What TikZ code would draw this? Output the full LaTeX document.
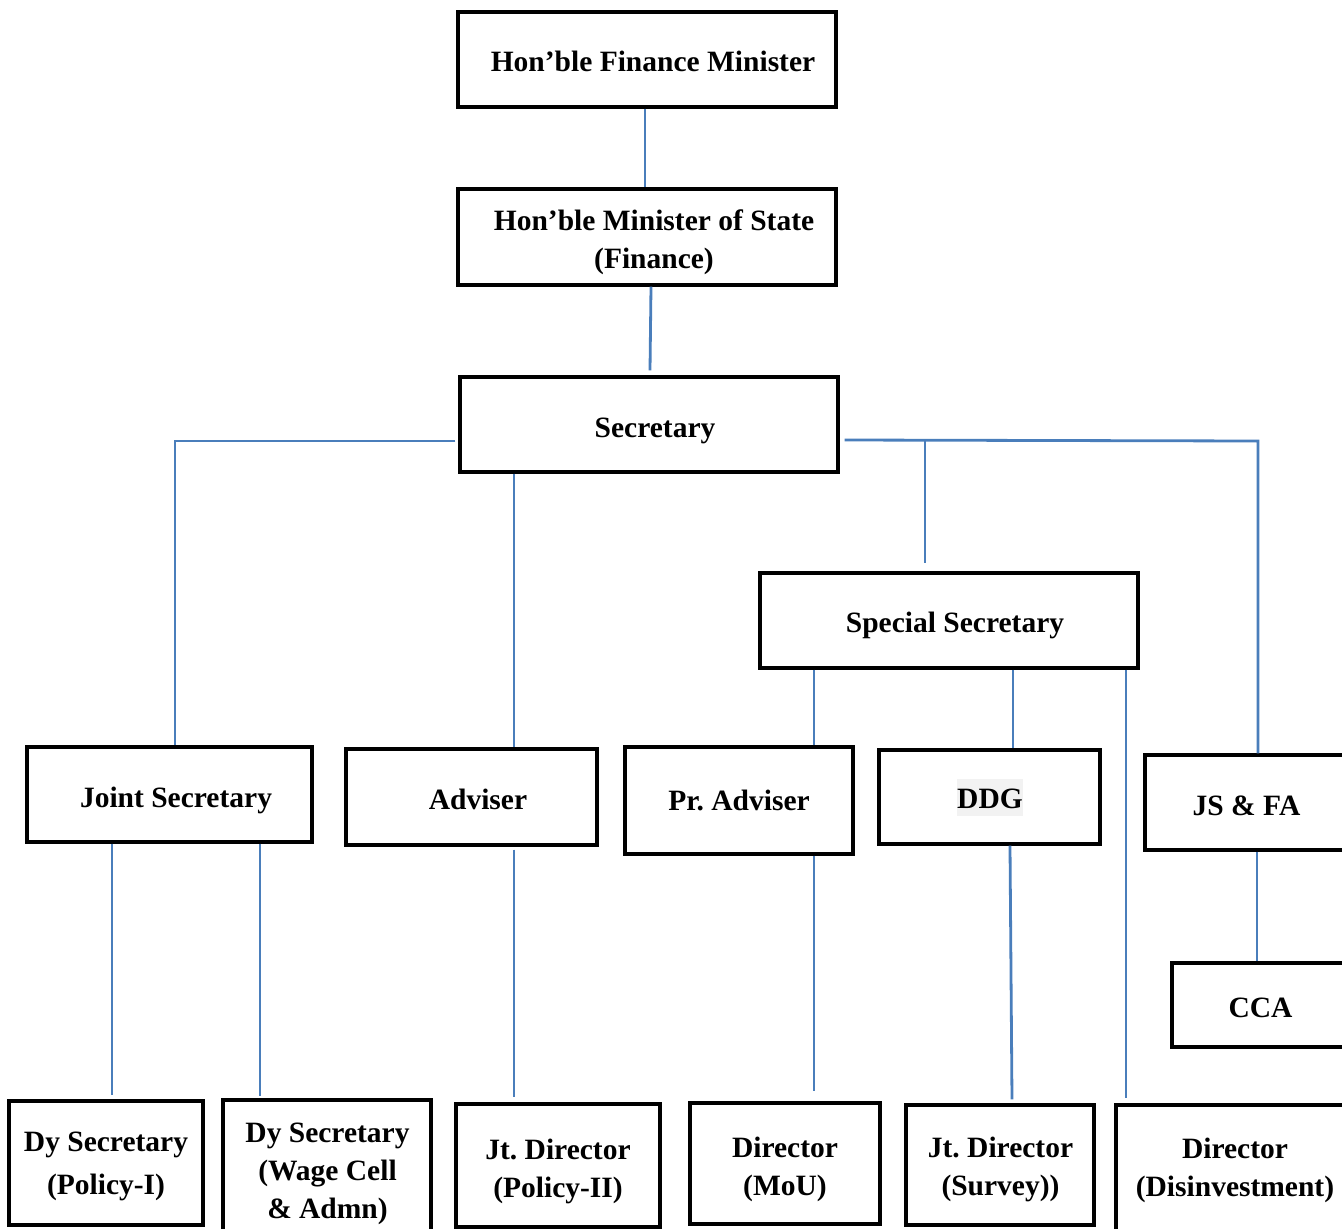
\documentclass[tikz,border=0pt]{standalone}
\usepackage{fontspec}
\setmainfont{Liberation Serif}
\usetikzlibrary{calc}
\definecolor{linkblue}{HTML}{4A7EBB}
\definecolor{hlgray}{HTML}{F2F2F2}
\frenchspacing
\begin{document}
\begin{tikzpicture}[x=1pt,y=-1pt,
  box/.style={draw=black,line width=3.4pt,rectangle,inner sep=0pt,fill=white},
  txt/.style={inner sep=0pt,align=center,font=\bfseries\fontsize{29.5}{38}\selectfont},
  conn/.style={draw=linkblue,line width=2.8pt}]
\useasboundingbox (0,0) rectangle (1342,1229);

% ---- boxes (centre x, centre y, width, height) ----
\node[box,minimum width=378pt,minimum height=95pt] (fm)   at (647,59.5)  {};
\node[box,minimum width=378pt,minimum height=96pt] (mos)  at (647,237)   {};
\node[box,minimum width=378pt,minimum height=95pt] (sec)  at (649,424.5) {};
\node[box,minimum width=378pt,minimum height=95pt] (ss)   at (949,620.5) {};
\node[box,minimum width=285pt,minimum height=95pt] (js)   at (169.5,794.5) {};
\node[box,minimum width=251pt,minimum height=96pt] (adv)  at (471.5,797) {};
\node[box,minimum width=228pt,minimum height=107pt] (pra) at (739,800.5) {};
\node[box,minimum width=221pt,minimum height=94pt] (ddg)  at (989.5,797) {};
\node[box,minimum width=202pt,minimum height=95pt] (jsfa) at (1246,802.5) {};
\node[box,minimum width=176pt,minimum height=84pt] (cca)  at (1260,1005) {};
\node[box,minimum width=194pt,minimum height=124pt] (dy1) at (106,1163) {};
\node[box,minimum width=208pt,minimum height=142pt] (dy2) at (327,1171) {};
\node[box,minimum width=204pt,minimum height=123pt] (jd1) at (558,1165.5) {};
\node[box,minimum width=190pt,minimum height=121pt] (dmou) at (785,1163.5) {};
\node[box,minimum width=188pt,minimum height=120pt] (jd2) at (1000,1165) {};
\node[box,minimum width=238pt,minimum height=127pt] (ddis) at (1235,1168.5) {};

% ---- labels ----
\node[txt] (fm-t)  at ([xshift=6pt,yshift=-2pt]fm.center) {Hon’ble Finance Minister};
\node[txt] (mos-t) at ([xshift=7pt,yshift=-5pt]mos.center) {Hon’ble Minister of State\\(Finance)};
\node[txt] (sec-t) at ([xshift=6pt,yshift=-6pt]sec.center) {Secretary};
\node[txt] (ss-t)  at ([xshift=6pt,yshift=-5pt]ss.center) {Special Secretary};
\node[txt] (js-t)  at ([xshift=6.5pt,yshift=-6pt]js.center) {Joint Secretary};
\node[txt] (adv-t) at ([xshift=6.5pt,yshift=-2pt]adv.center) {Adviser};
\node[txt] (pra-t) at ([yshift=0pt]pra.center) {Pr. Adviser};
\node[fill=hlgray,minimum width=66pt,minimum height=37pt,inner sep=0pt] (ddg-h) at ([xshift=0.5pt,yshift=-0.5pt]ddg.center) {};
\node[txt] (ddg-t) at ([xshift=0.5pt,yshift=-2pt]ddg.center) {DDG};
\node[txt] (jsfa-t) at ([xshift=0.5pt,yshift=-3pt]jsfa.center) {JS \& FA};
\node[txt] (cca-t) at ([xshift=0.5pt,yshift=-3pt]cca.center) {CCA};
\node[txt] (dy1-t) at ([yshift=-3pt]dy1.center) {Dy Secretary\\[5pt](Policy-I)};
\node[txt] (dy2-t) at ([xshift=0.5pt,yshift=-3pt]dy2.center) {Dy Secretary\\(Wage Cell\\\& Admn)};
\node[txt] (jd1-t) at ([yshift=-6pt]jd1.center) {Jt. Director\\(Policy-II)};
\node[txt] (dmou-t) at ([yshift=-6pt]dmou.center) {Director\\(MoU)};
\node[txt] (jd2-t) at ([xshift=0.5pt,yshift=-4pt]jd2.center) {Jt. Director\\(Survey))};
\node[txt] (ddis-t) at ([yshift=-2pt]ddis.center) {Director\\(Disinvestment)};

% ---- column and junction points ----
\coordinate (jL) at (175,441);
\coordinate (jR) at (1258,441);
\coordinate (jS) at (925,441);
\coordinate (cA) at (514,0);
\coordinate (cP) at (814,0);
\coordinate (cD) at (1013,0);
\coordinate (cX) at (1126,0);
\coordinate (c1) at (112,0);
\coordinate (c2) at (260,0);
\coordinate (cF) at (1257,0);

% ---- connectors ----
\draw[conn] ([xshift=-2pt]fm.south) -- ([xshift=-2pt]mos.north);
\draw[conn] ([xshift=4pt]mos.south) -- ([xshift=1pt,yshift=5pt]sec.north);
\draw[conn] ([xshift=-3pt]sec.west |- jL) -- (jL) -- (jL |- js.north);
\draw[conn] (sec.south -| cA) -- (adv.north -| cA);
\draw[conn] ([xshift=5pt,yshift=-15.5pt]sec.east) -- (jR) -- (jR |- jsfa.north);
\draw[conn] (jS) -- ([yshift=8pt]ss.north -| jS);
\draw[conn] (ss.south -| cP) -- (pra.north -| cP);
\draw[conn] (ss.south -| cD) -- (ddg.north -| cD);
\draw[conn] (ss.south -| cX) -- ([yshift=5pt]ddis.north -| cX);
\draw[conn] (js.south -| c1) -- ([yshift=4pt]dy1.north -| c1);
\draw[conn] (js.south -| c2) -- ([yshift=2pt]dy2.north -| c2);
\draw[conn] ([yshift=-3pt]adv.south -| cA) -- ([yshift=5pt]jd1.north -| cA);
\draw[conn] (pra.south -| cP) -- ([yshift=10pt]dmou.north -| cP);
\draw[conn] ([xshift=20.5pt]ddg.south) -- ([xshift=12pt,yshift=4pt]jd2.north);
\draw[conn] (jsfa.south -| cF) -- (cca.north -| cF);
\end{tikzpicture}
\end{document}
